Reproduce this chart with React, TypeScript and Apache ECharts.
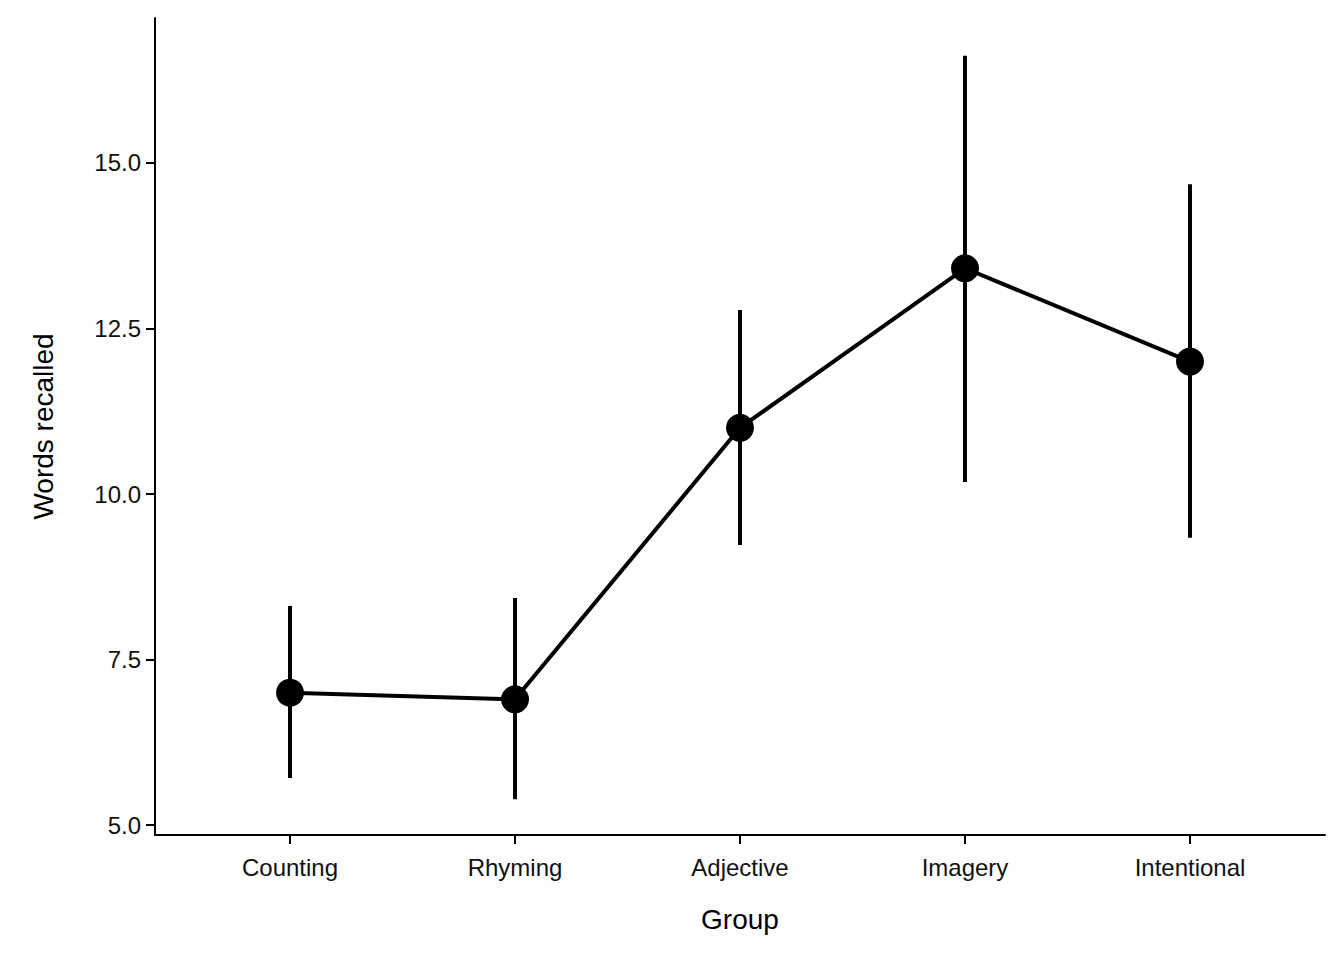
import React, { useEffect, useRef } from 'react';
import * as echarts from 'echarts';

const groups = ['Counting', 'Rhyming', 'Adjective', 'Imagery', 'Intentional'];
const means = [7.0, 6.9, 11.0, 13.41, 12.0];
const upper = [8.31, 8.43, 12.78, 16.62, 14.68];
const lower = [5.71, 5.39, 9.23, 10.18, 9.34];
const yTicks = [5, 7.5, 10, 12.5, 15];

const App: React.FC = () => {
  const chartRef = useRef<HTMLDivElement>(null);

  useEffect(() => {
    document.body.style.margin = '0';
    const chart = echarts.init(chartRef.current!, null, { renderer: 'svg' });
    const font = 'Liberation Sans, Arial, sans-serif';
    const xs = groups.map((_, i) => i + 1);

    chart.setOption({
      animation: false,
      grid: { left: 155, right: 19, top: 18, bottom: 125 },
      xAxis: {
        type: 'value',
        min: 0.4,
        max: 5.6,
        name: 'Group',
        nameLocation: 'middle',
        nameGap: 70,
        nameTextStyle: { fontSize: 28, color: '#000', fontFamily: font },
        axisLine: { show: true, onZero: false, lineStyle: { color: '#000', width: 2 } },
        axisTick: { show: true, length: 9, lineStyle: { color: '#000', width: 2 }, customValues: xs },
        axisLabel: {
          fontSize: 24, color: '#111', fontFamily: font, margin: 20,
          customValues: xs,
          formatter: (v: number) => groups[Math.round(v) - 1] ?? '',
        },
        splitLine: { show: false },
      },
      yAxis: {
        type: 'value',
        min: 4.85,
        max: 17.19,
        name: 'Words recalled',
        nameLocation: 'middle',
        nameGap: 98,
        nameTextStyle: { fontSize: 28, color: '#000', fontFamily: font },
        axisLine: { show: true, onZero: false, lineStyle: { color: '#000', width: 2 } },
        axisTick: { show: true, length: 9, lineStyle: { color: '#000', width: 2 }, customValues: yTicks },
        axisLabel: {
          fontSize: 24, color: '#111', fontFamily: font, margin: 14,
          customValues: yTicks,
          formatter: (v: number) => v.toFixed(1),
        },
        splitLine: { show: false },
      },
      series: [
        {
          type: 'custom',
          data: xs.map((x, i) => [x, lower[i], upper[i]]),
          renderItem: (params: any, api: any) => {
            const a = api.coord([api.value(0), api.value(1)]);
            const b = api.coord([api.value(0), api.value(2)]);
            return {
              type: 'line',
              shape: { x1: a[0], y1: a[1], x2: b[0], y2: b[1] },
              style: { stroke: '#000', lineWidth: 4 },
            };
          },
          z: 1,
        },
        {
          type: 'line',
          data: xs.map((x, i) => [x, means[i]]),
          symbol: 'circle',
          symbolSize: 28,
          itemStyle: { color: '#000' },
          lineStyle: { color: '#000', width: 4 },
          z: 2,
        },
      ],
    });

    return () => chart.dispose();
  }, []);

  return <div ref={chartRef} style={{ width: '1344px', height: '960px' }} />;
};

export default App;
